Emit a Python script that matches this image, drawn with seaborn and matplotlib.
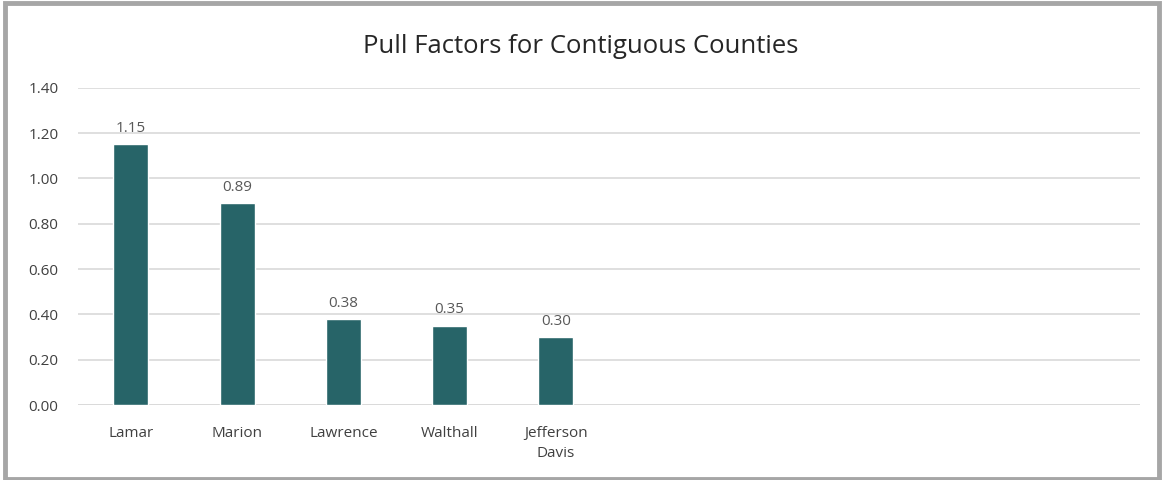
import matplotlib.pyplot as plt
import seaborn as sns
import pandas as pd

sns.set_theme(style="white")
plt.rcParams["font.family"] = ["Open Sans", "DejaVu Sans"]

counties = ["Lamar", "Marion", "Lawrence", "Walthall", "Jefferson\nDavis"]
pull_factors = [1.15, 0.89, 0.38, 0.35, 0.30]
# the category axis has room for ten counties, only five are filled
empty_slots = [" " * i for i in range(1, 6)]
yticks = [0.0, 0.2, 0.4, 0.6, 0.8, 1.0, 1.2, 1.4]

df = pd.DataFrame({"county": counties, "pull": pull_factors})

fig = plt.figure(figsize=(11.62, 4.8), dpi=100)
ax = fig.add_axes([0.067, 0.156, 0.914, 0.661])

sns.barplot(data=df, x="county", y="pull", order=counties + empty_slots,
            color="#276468", saturation=1, width=0.33, ax=ax)

ax.set_ylim(0, 1.4)
ax.set_yticks(yticks)
ax.set_yticklabels([f"{v:.2f}" for v in yticks])
ax.yaxis.grid(True, color="#d9d9d9", linewidth=1.2)
ax.set_axisbelow(True)
for s in ax.spines.values():
    s.set_visible(False)
ax.axhline(0, color="#d9d9d9", linewidth=1.2, zorder=0.5)
ax.set_xlabel("")
ax.set_ylabel("")
ax.tick_params(axis="both", length=0, labelsize=11, labelcolor="#404040")
ax.tick_params(axis="x", pad=15)
ax.tick_params(axis="y", pad=14)
for t in ax.get_xticklabels():
    t.set_linespacing(1.5)

for c in ax.containers:
    ax.bar_label(c, labels=[f"{v:.2f}" for v in pull_factors],
                 padding=6, fontsize=11, color="#595959")

fig.text(0.5, 0.903, "Pull Factors for Contiguous Counties",
         ha="center", va="center", fontsize=18.5, color="#262626")

# grey frame around the chart
fig.add_artist(plt.Rectangle((0.004, 0.003), 0.993, 0.99, transform=fig.transFigure,
                             fill=False, edgecolor="#a6a6a6", linewidth=3.5))

fig.savefig("out.png", dpi=100)
